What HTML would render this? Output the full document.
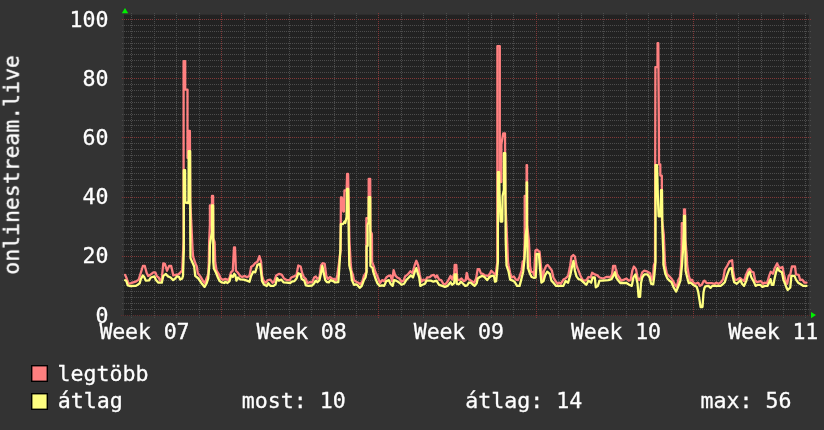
<!DOCTYPE html>
<html lang="hu"><head><meta charset="utf-8"><title>onlinestream.live</title>
<style>
html,body{margin:0;padding:0;background:#333333;overflow:hidden}
svg{display:block}
text{font-family:"DejaVu Sans Mono","Liberation Mono",monospace;font-size:21.6px;fill:#ffffff;stroke:#ffffff;stroke-width:0.3px}
.g{stroke:#4c4c4c;stroke-width:1;stroke-dasharray:1 1;shape-rendering:crispEdges}
.m{stroke:#823838;stroke-width:1;stroke-dasharray:1 1;shape-rendering:crispEdges}
.ln{fill:none;stroke-width:2.3;stroke-linejoin:round;stroke-linecap:round}
</style></head><body>
<svg width="824" height="430" viewBox="0 0 824 430">
<rect x="0" y="0" width="824" height="430" fill="#333333"/>
<rect x="124" y="14.7" width="684.8" height="301" fill="#222222"/>

<g>
<line class="m" style="stroke:#5e2c2c" x1="121" x2="811" y1="315.5" y2="315.5"/>
<line class="g" x1="122" x2="811" y1="309.5" y2="309.5"/>
<line class="g" x1="122" x2="811" y1="303.5" y2="303.5"/>
<line class="g" x1="122" x2="811" y1="297.5" y2="297.5"/>
<line class="g" x1="122" x2="811" y1="291.5" y2="291.5"/>
<line class="g" x1="122" x2="811" y1="285.5" y2="285.5"/>
<line class="g" x1="122" x2="811" y1="280.5" y2="280.5"/>
<line class="g" x1="122" x2="811" y1="274.5" y2="274.5"/>
<line class="g" x1="122" x2="811" y1="268.5" y2="268.5"/>
<line class="g" x1="122" x2="811" y1="262.5" y2="262.5"/>
<line class="m" x1="122" x2="811" y1="256.5" y2="256.5"/>
<line class="g" x1="122" x2="811" y1="250.5" y2="250.5"/>
<line class="g" x1="122" x2="811" y1="244.5" y2="244.5"/>
<line class="g" x1="122" x2="811" y1="238.5" y2="238.5"/>
<line class="g" x1="122" x2="811" y1="232.5" y2="232.5"/>
<line class="g" x1="122" x2="811" y1="226.5" y2="226.5"/>
<line class="g" x1="122" x2="811" y1="220.5" y2="220.5"/>
<line class="g" x1="122" x2="811" y1="214.5" y2="214.5"/>
<line class="g" x1="122" x2="811" y1="208.5" y2="208.5"/>
<line class="g" x1="122" x2="811" y1="203.5" y2="203.5"/>
<line class="m" x1="122" x2="811" y1="197.5" y2="197.5"/>
<line class="g" x1="122" x2="811" y1="191.5" y2="191.5"/>
<line class="g" x1="122" x2="811" y1="185.5" y2="185.5"/>
<line class="g" x1="122" x2="811" y1="179.5" y2="179.5"/>
<line class="g" x1="122" x2="811" y1="173.5" y2="173.5"/>
<line class="g" x1="122" x2="811" y1="167.5" y2="167.5"/>
<line class="g" x1="122" x2="811" y1="161.5" y2="161.5"/>
<line class="g" x1="122" x2="811" y1="155.5" y2="155.5"/>
<line class="g" x1="122" x2="811" y1="149.5" y2="149.5"/>
<line class="g" x1="122" x2="811" y1="143.5" y2="143.5"/>
<line class="m" x1="122" x2="811" y1="137.5" y2="137.5"/>
<line class="g" x1="122" x2="811" y1="131.5" y2="131.5"/>
<line class="g" x1="122" x2="811" y1="125.5" y2="125.5"/>
<line class="g" x1="122" x2="811" y1="120.5" y2="120.5"/>
<line class="g" x1="122" x2="811" y1="114.5" y2="114.5"/>
<line class="g" x1="122" x2="811" y1="108.5" y2="108.5"/>
<line class="g" x1="122" x2="811" y1="102.5" y2="102.5"/>
<line class="g" x1="122" x2="811" y1="96.5" y2="96.5"/>
<line class="g" x1="122" x2="811" y1="90.5" y2="90.5"/>
<line class="g" x1="122" x2="811" y1="84.5" y2="84.5"/>
<line class="m" x1="122" x2="811" y1="78.5" y2="78.5"/>
<line class="g" x1="122" x2="811" y1="72.5" y2="72.5"/>
<line class="g" x1="122" x2="811" y1="66.5" y2="66.5"/>
<line class="g" x1="122" x2="811" y1="60.5" y2="60.5"/>
<line class="g" x1="122" x2="811" y1="54.5" y2="54.5"/>
<line class="g" x1="122" x2="811" y1="48.5" y2="48.5"/>
<line class="g" x1="122" x2="811" y1="43.5" y2="43.5"/>
<line class="g" x1="122" x2="811" y1="37.5" y2="37.5"/>
<line class="g" x1="122" x2="811" y1="31.5" y2="31.5"/>
<line class="g" x1="122" x2="811" y1="25.5" y2="25.5"/>
<line class="m" x1="122" x2="811" y1="19.5" y2="19.5"/>
</g><g>
<line class="g" x1="131.5" x2="131.5" y1="13" y2="318"/>
<line class="g" x1="154.5" x2="154.5" y1="13" y2="318"/>
<line class="g" x1="176.5" x2="176.5" y1="13" y2="318"/>
<line class="g" x1="199.5" x2="199.5" y1="13" y2="318"/>
<line class="m" x1="221.5" x2="221.5" y1="13" y2="318"/>
<line class="g" x1="244.5" x2="244.5" y1="13" y2="318"/>
<line class="g" x1="266.5" x2="266.5" y1="13" y2="318"/>
<line class="g" x1="289.5" x2="289.5" y1="13" y2="318"/>
<line class="g" x1="311.5" x2="311.5" y1="13" y2="318"/>
<line class="g" x1="334.5" x2="334.5" y1="13" y2="318"/>
<line class="g" x1="356.5" x2="356.5" y1="13" y2="318"/>
<line class="m" x1="378.5" x2="378.5" y1="13" y2="318"/>
<line class="g" x1="401.5" x2="401.5" y1="13" y2="318"/>
<line class="g" x1="423.5" x2="423.5" y1="13" y2="318"/>
<line class="g" x1="446.5" x2="446.5" y1="13" y2="318"/>
<line class="g" x1="468.5" x2="468.5" y1="13" y2="318"/>
<line class="g" x1="491.5" x2="491.5" y1="13" y2="318"/>
<line class="g" x1="513.5" x2="513.5" y1="13" y2="318"/>
<line class="m" x1="536.5" x2="536.5" y1="13" y2="318"/>
<line class="g" x1="558.5" x2="558.5" y1="13" y2="318"/>
<line class="g" x1="581.5" x2="581.5" y1="13" y2="318"/>
<line class="g" x1="603.5" x2="603.5" y1="13" y2="318"/>
<line class="g" x1="626.5" x2="626.5" y1="13" y2="318"/>
<line class="g" x1="648.5" x2="648.5" y1="13" y2="318"/>
<line class="g" x1="671.5" x2="671.5" y1="13" y2="318"/>
<line class="m" x1="693.5" x2="693.5" y1="13" y2="318"/>
<line class="g" x1="716.5" x2="716.5" y1="13" y2="318"/>
<line class="g" x1="738.5" x2="738.5" y1="13" y2="318"/>
<line class="g" x1="761.5" x2="761.5" y1="13" y2="318"/>
<line class="g" x1="783.5" x2="783.5" y1="13" y2="318"/>
<line class="g" x1="805.5" x2="805.5" y1="13" y2="318"/>
</g>
<polyline class="ln" stroke="#ff8080" points="125.1,274.9 126.7,278.5 128.5,283.8 130.9,283.2 135.6,281.7 138.7,279.6 140.8,272.8 142.9,266.0 144.8,266.0 146.6,272.8 148.2,275.9 150.8,274.4 153.4,272.3 155.3,272.3 157.0,276.4 158.6,277.5 160.2,280.6 161.8,278.5 163.3,263.4 164.9,263.9 167.0,270.7 169.1,266.0 171.2,266.0 173.3,275.4 175.3,274.9 178.5,274.4 181.1,271.7 182.2,270.7 183.6,240.0 183.6,61.1 185.2,61.1 185.2,89.6 187.5,89.6 187.5,158.0 188.3,158.0 188.3,131.0 189.9,131.0 190.2,200.0 192.6,250.0 193.1,256.6 195.2,262.9 196.8,266.5 197.8,273.3 200.4,276.4 203.1,281.1 204.6,283.2 206.2,279.6 206.2,279.1 208.2,274.4 208.8,262.0 209.2,240.0 209.9,225.0 209.9,205.4 212.0,205.4 212.0,195.9 213.1,195.9 213.3,238.0 214.6,242.0 215.2,262.0 216.6,270.7 218.6,273.8 220.7,278.5 222.8,279.9 225.4,278.9 228.1,280.1 229.6,277.5 231.0,272.3 232.8,270.7 233.6,255.0 234.0,247.3 235.0,247.3 235.6,262.0 235.9,270.7 238.0,272.8 240.1,275.9 242.2,277.0 244.8,275.9 246.9,277.2 249.5,275.9 251.1,267.0 253.2,265.5 255.3,262.9 257.4,261.8 259.4,256.1 261.0,261.3 262.1,275.9 263.6,280.6 265.7,282.7 267.8,280.1 270.4,279.6 272.5,282.7 274.1,281.7 276.2,275.4 279.3,273.8 281.9,274.9 284.0,278.5 286.6,280.1 289.7,280.1 291.2,277.5 293.9,276.4 296.5,274.9 298.3,265.5 300.6,266.5 302.2,273.3 303.8,277.0 305.9,279.1 307.4,283.2 309.5,282.2 312.1,282.4 314.2,277.5 315.8,276.4 317.4,278.9 319.5,277.0 321.0,265.5 322.6,263.2 324.7,263.9 326.3,275.9 327.8,279.1 329.9,277.0 332.0,278.5 334.1,279.1 336.2,280.1 337.3,274.9 338.8,264.4 340.6,250.0 340.9,197.3 341.8,197.3 343.3,211.5 343.9,211.5 344.5,190.5 346.6,190.5 347.1,174.0 348.1,174.0 349.4,240.0 350.6,262.0 351.4,270.7 352.9,274.9 354.0,280.1 356.1,281.7 358.2,282.7 360.3,284.3 362.4,281.1 363.9,275.9 366.3,272.0 366.4,218.2 368.7,218.2 368.7,179.0 370.2,179.0 370.4,231.0 371.9,234.0 372.1,262.0 374.0,267.0 375.3,271.7 377.9,277.5 380.0,283.2 382.1,280.1 384.2,281.1 386.3,277.5 388.4,275.9 390.5,275.4 392.1,281.1 393.6,270.2 395.2,275.4 397.3,277.5 399.4,278.5 401.5,281.7 403.6,280.6 405.1,276.4 407.8,274.4 410.4,271.2 412.5,273.3 414.6,265.5 416.3,260.8 418.2,265.5 419.8,274.9 421.4,281.7 423.4,279.6 425.5,280.6 427.1,277.5 429.7,277.2 431.8,275.4 433.9,274.9 435.5,277.5 437.0,275.4 439.1,279.6 441.2,280.1 443.3,283.8 445.4,284.3 447.5,281.7 450.6,275.9 452.1,279.6 454.2,273.8 454.7,264.9 456.3,264.9 457.3,279.6 459.4,280.1 461.5,278.5 463.6,281.1 465.7,280.1 466.7,272.8 468.3,279.1 470.9,280.6 474.1,282.7 476.1,278.5 477.7,269.1 479.3,269.1 480.9,273.3 482.9,273.8 485.0,275.4 488.2,275.9 490.3,272.8 491.3,270.7 493.9,273.3 495.7,274.9 497.3,262.0 497.4,46.1 499.8,46.1 499.8,182.0 501.3,182.0 501.4,144.0 503.2,133.4 505.0,133.4 505.3,200.0 506.9,235.0 508.0,262.0 508.6,265.5 510.1,272.8 511.7,277.5 513.8,276.4 515.9,279.6 518.0,280.1 519.6,276.4 521.6,270.7 522.7,261.3 524.0,262.0 524.7,240.0 524.7,196.0 526.6,196.0 526.6,165.1 527.0,165.1 527.2,225.0 528.8,240.0 529.8,258.0 530.0,265.5 531.1,271.7 533.2,272.3 534.2,275.4 534.2,274.4 534.6,265.5 535.4,250.6 537.0,249.6 539.6,251.8 541.4,270.7 542.5,280.1 544.0,270.7 546.1,266.0 547.7,264.9 549.8,267.6 551.9,270.7 553.4,277.5 555.5,281.1 557.6,283.8 559.2,282.7 560.8,283.8 563.4,279.6 565.5,278.5 568.1,275.9 570.2,265.5 571.5,256.6 573.3,255.0 574.9,256.6 576.5,265.5 578.5,270.7 580.6,275.9 582.7,280.1 584.8,280.6 586.4,280.1 588.5,277.0 590.6,277.5 592.1,272.8 594.8,274.4 597.4,275.4 599.5,277.5 603.1,278.5 606.3,277.0 610.5,277.0 612.0,274.9 613.1,266.0 615.2,266.0 616.2,272.8 616.2,269.6 617.1,274.4 619.2,277.5 621.3,280.6 623.9,279.6 626.5,278.5 628.6,280.6 630.7,280.1 632.3,270.7 633.9,266.5 636.0,269.1 637.5,277.5 639.1,280.1 640.7,277.5 642.2,272.3 644.3,270.7 647.5,271.7 650.1,273.3 651.7,280.1 653.2,275.9 653.8,265.5 655.0,262.0 655.4,67.2 657.5,67.2 657.6,43.2 658.3,43.2 658.8,120.0 659.0,164.4 660.3,164.4 660.3,175.6 661.8,175.6 662.0,220.0 663.8,235.0 664.9,262.0 665.3,265.5 666.8,273.8 668.9,275.9 671.0,278.0 673.1,281.1 675.2,285.3 676.8,286.9 678.3,280.1 679.9,277.0 681.0,265.5 681.6,250.0 681.8,223.1 684.0,223.1 684.0,209.4 685.0,209.4 685.4,240.0 686.7,255.0 687.2,265.5 688.8,275.9 690.4,280.6 691.9,279.6 693.5,282.7 695.6,283.8 697.7,282.7 697.7,282.7 698.6,283.2 699.7,285.9 701.8,284.8 703.3,281.7 704.4,280.6 706.5,283.0 711.7,283.2 714.8,283.8 716.4,282.7 718.5,283.8 721.1,282.2 723.2,279.1 724.8,269.6 727.4,265.5 729.5,261.3 732.1,260.2 733.1,270.7 734.7,280.1 737.3,279.6 739.9,278.0 742.0,279.6 744.1,281.1 746.2,274.4 748.3,269.6 749.6,268.6 751.4,271.7 753.5,272.3 755.1,280.1 756.7,282.2 758.8,281.7 760.9,281.1 763.0,283.8 764.5,282.7 767.1,283.2 769.2,275.9 770.8,271.7 772.9,273.8 774.5,268.6 777.1,263.4 778.6,266.5 780.2,268.1 782.5,267.0 784.0,274.4 785.6,281.1 787.2,283.8 788.7,275.9 790.3,274.4 791.9,266.5 795.0,266.5 796.0,274.4 798.7,274.9 800.2,280.1 802.3,279.6 804.4,282.7 806.5,282.7"/>
<polyline class="ln" stroke="#ffff80" points="125.1,280.1 126.4,281.1 127.8,285.5 129.8,286.0 135.6,285.9 137.7,284.8 139.6,283.4 140.8,279.3 142.9,275.4 144.2,277.0 145.8,280.6 149.0,280.4 150.8,277.5 154.4,276.4 156.0,279.9 158.4,282.7 161.8,282.7 163.3,275.9 165.9,274.0 168.0,276.4 170.6,277.5 173.1,280.1 175.3,278.5 176.9,276.4 179.0,276.8 180.2,279.6 182.2,278.5 183.0,275.9 183.8,250.0 183.8,170.2 185.1,170.2 185.3,202.5 188.5,203.0 188.7,151.2 190.1,151.2 190.3,235.0 190.5,258.1 194.2,266.5 195.2,275.9 198.4,278.5 201.5,283.2 204.6,286.9 206.7,283.2 208.2,278.5 209.6,262.0 209.9,245.0 210.9,238.0 212.0,232.0 212.0,205.4 213.1,205.4 213.3,262.0 213.9,268.6 216.0,272.8 218.1,278.0 219.7,281.1 221.8,282.4 224.4,283.0 225.4,281.7 227.5,283.0 229.6,281.1 231.0,275.4 232.8,277.0 234.3,273.8 235.4,275.4 236.4,280.6 238.0,277.5 240.1,279.3 243.8,279.6 246.9,280.6 249.5,281.7 251.1,275.9 253.2,271.7 255.3,272.3 257.4,264.9 260.0,263.9 261.0,271.7 262.1,281.1 264.1,284.8 266.8,285.9 268.3,283.2 270.4,285.9 273.6,285.9 275.6,284.3 277.2,278.0 278.8,280.6 281.4,279.6 283.5,282.4 286.6,282.7 290.2,283.0 291.8,281.7 294.4,281.1 296.5,278.5 298.3,273.3 300.6,274.4 301.7,279.1 304.3,280.6 305.9,285.3 308.5,285.9 312.1,285.5 314.2,283.2 315.8,280.6 317.4,282.2 319.5,280.1 321.0,273.3 322.4,266.0 323.7,272.8 325.2,280.1 326.8,282.0 328.9,282.4 330.5,280.1 333.1,281.1 335.2,282.4 338.3,282.2 339.1,270.7 340.4,250.0 340.8,224.2 343.0,224.0 344.5,221.5 345.3,223.0 346.6,217.0 347.0,189.0 348.2,189.0 348.8,240.0 349.3,265.5 350.9,271.7 351.9,280.1 354.0,284.8 355.6,284.3 357.6,285.3 359.7,287.9 361.8,285.9 363.9,280.1 365.5,277.5 366.6,272.0 366.6,246.0 367.6,246.0 367.6,225.0 368.6,222.0 368.7,197.2 370.2,197.2 370.4,266.0 372.6,268.0 373.2,271.7 375.3,278.0 377.4,283.2 379.5,285.9 382.1,285.3 384.2,285.9 386.3,281.1 388.9,280.1 390.5,283.8 392.6,285.9 394.1,280.1 396.2,280.6 399.4,282.7 401.5,284.8 404.1,283.8 406.2,280.1 408.8,277.5 410.9,275.4 413.0,277.5 414.6,272.3 416.3,268.1 417.7,272.8 419.3,278.0 420.3,285.9 422.4,284.8 425.0,283.8 426.6,280.6 430.8,280.6 433.4,281.7 436.5,280.6 439.1,284.8 442.3,285.9 444.9,286.9 447.5,285.9 450.6,282.2 452.1,284.8 454.2,283.2 454.7,274.4 456.3,274.4 456.8,283.8 458.9,284.3 461.0,281.7 463.1,283.8 465.2,285.9 467.3,285.3 468.8,282.7 470.9,282.7 472.5,284.3 474.6,285.9 476.7,283.2 477.7,278.5 479.8,277.0 482.4,275.9 484.5,277.0 487.1,280.1 489.2,277.5 491.3,275.9 493.9,275.9 495.0,281.7 496.2,281.1 497.9,262.0 497.9,172.1 499.1,172.1 499.6,196.0 500.6,221.5 502.3,221.5 502.6,196.0 503.9,190.0 503.9,153.2 505.2,153.2 505.7,240.0 506.5,265.5 508.6,271.7 510.1,279.6 512.8,280.6 514.9,282.2 517.0,285.9 519.6,285.9 521.1,280.1 523.2,271.7 524.6,258.0 525.6,236.0 526.7,228.0 526.7,182.3 527.0,182.3 527.0,228.0 527.5,250.0 527.9,267.6 530.0,273.8 531.6,277.0 533.7,277.8 535.7,277.5 536.4,265.5 536.6,254.0 538.9,254.0 540.2,270.7 541.4,282.7 543.5,281.1 545.1,275.4 547.2,271.7 549.8,273.8 551.4,280.6 553.4,282.7 556.1,285.9 563.4,285.9 565.5,281.1 568.1,282.7 570.2,275.4 572.3,265.5 573.5,260.8 574.9,270.7 576.5,276.4 578.5,279.1 580.6,279.6 583.3,282.2 586.4,284.8 588.5,280.6 591.1,282.7 592.7,277.5 594.8,277.5 595.8,287.4 597.9,285.9 599.5,280.6 602.1,280.6 608.4,280.1 611.5,279.1 613.6,275.4 614.9,272.3 616.2,277.5 616.2,277.5 618.7,281.1 620.3,283.0 626.5,283.0 629.2,284.8 631.8,285.9 633.4,277.5 635.4,274.4 636.5,279.1 637.5,283.2 638.6,296.8 640.1,296.8 641.0,283.2 642.2,277.5 644.3,274.4 647.5,274.4 649.6,277.5 651.1,283.8 653.2,284.3 654.3,275.9 655.5,262.0 655.6,165.1 657.1,165.1 657.8,195.0 658.6,216.3 660.6,216.3 661.0,190.1 662.0,190.1 662.4,230.0 663.4,255.0 663.4,264.4 665.3,273.8 667.4,278.5 669.4,280.6 671.5,282.2 673.6,287.4 676.2,291.6 678.3,286.4 680.4,280.6 682.0,265.5 683.0,250.0 683.8,232.0 684.0,215.8 685.0,215.8 685.2,240.0 685.6,270.7 687.2,277.5 688.8,283.2 690.9,282.7 693.0,284.8 695.1,285.9 696.7,286.8 698.2,291.7 699.7,301.4 700.6,307.0 702.5,307.0 703.5,292.6 704.5,287.8 705.4,286.4 708.5,285.9 710.6,287.9 712.2,285.9 720.6,285.9 722.7,284.3 724.8,282.2 726.9,275.4 729.5,268.6 731.6,268.1 732.6,275.9 734.2,282.2 736.8,283.8 738.9,281.7 740.5,280.1 742.0,283.8 744.1,285.9 746.2,281.1 748.3,273.8 749.6,271.7 751.4,277.5 753.5,281.1 755.6,285.9 757.7,284.8 760.3,284.8 762.4,286.9 765.0,285.9 767.6,285.9 769.2,282.2 770.5,279.1 771.8,284.8 773.4,284.8 774.5,279.1 776.0,272.3 777.4,268.1 779.2,270.7 781.9,272.3 783.5,280.1 785.1,283.8 786.6,287.9 787.7,290.0 789.3,288.5 790.3,287.4 791.4,275.9 794.5,275.9 796.0,279.6 798.1,282.7 800.8,284.3 803.4,285.9 806.5,285.9"/>
<polygon points="121.8,13.2 125,8 128.2,13.2" fill="#00f000"/>
<polygon points="811,312 816,315.1 811,318.2" fill="#00f000"/>
<g id="txt" opacity="0.999">
<text x="108.5" y="322.6" text-anchor="end">0</text>
<text x="108.5" y="263.4" text-anchor="end">20</text>
<text x="108.5" y="204.2" text-anchor="end">40</text>
<text x="108.5" y="145.1" text-anchor="end">60</text>
<text x="108.5" y="85.9" text-anchor="end">80</text>
<text x="108.5" y="26.7" text-anchor="end">100</text>
<text x="144.4" y="338.7" text-anchor="middle" style="letter-spacing:-0.15px">Week 07</text>
<text x="301.6" y="338.7" text-anchor="middle" style="letter-spacing:-0.15px">Week 08</text>
<text x="458.8" y="338.7" text-anchor="middle" style="letter-spacing:-0.15px">Week 09</text>
<text x="616.0" y="338.7" text-anchor="middle" style="letter-spacing:-0.15px">Week 10</text>
<text x="773.2" y="338.7" text-anchor="middle" style="letter-spacing:-0.15px">Week 11</text>
<text transform="translate(18.8,164.9) rotate(-90)" text-anchor="middle" style="font-size:21.45px">onlinestream.live</text>
<rect x="31.7" y="365.7" width="15.6" height="15.6" fill="#ff8080" stroke="#000" stroke-width="1.4"/>
<rect x="31.7" y="393.7" width="15.6" height="15.6" fill="#ffff80" stroke="#000" stroke-width="1.4"/>
<text x="57.6" y="380.8">legtöbb</text>
<text x="57.8" y="408.4">átlag</text>
<text x="241.8" y="408.4">most: 10</text>
<text x="465.2" y="408.4">átlag: 14</text>
<text x="700.6" y="408.4">max: 56</text>
</g>
</svg></body></html>
